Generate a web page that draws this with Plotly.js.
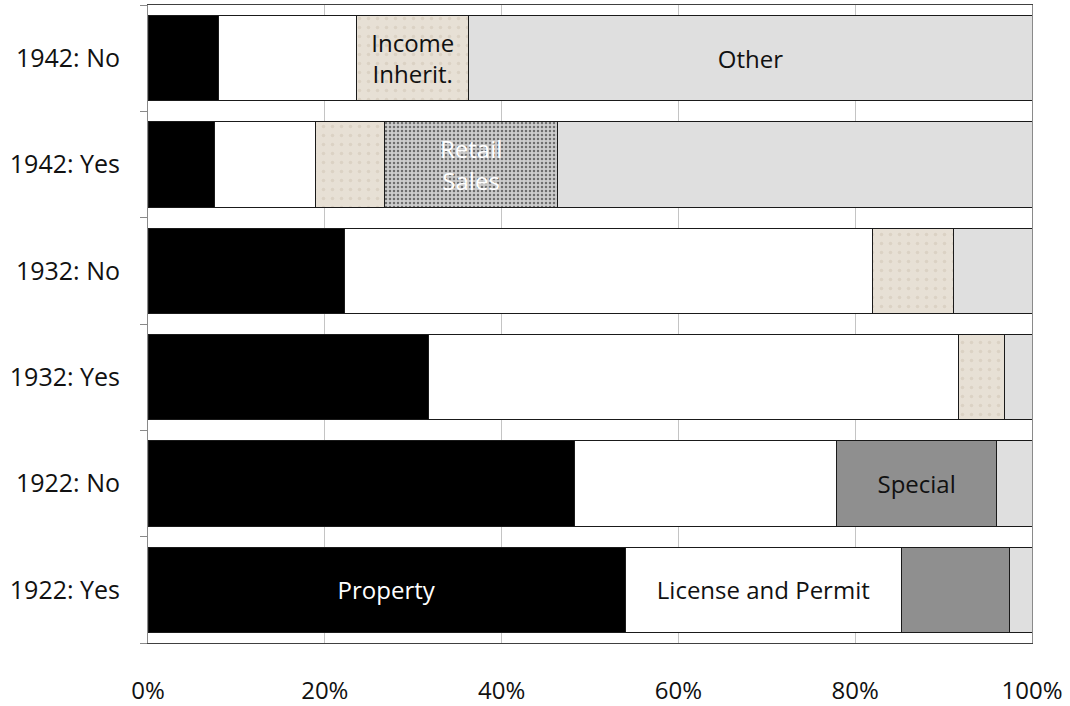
<!DOCTYPE html>
<html>
<head>
<meta charset="utf-8">
<script src="https://cdn.plot.ly/plotly-3.0.1.min.js"></script>
<style>html,body{margin:0;padding:0;background:#fff;}#chart{width:1070px;height:706px;}</style>
</head>
<body>
<div id="chart"></div>
<script>
// Categories (bottom to top)
const categories = ['1922: Yes', '1922: No', '1932: Yes', '1932: No', '1942: Yes', '1942: No'];

// Shares of revenue (percent)
const property = [54.0, 48.2, 31.7, 22.2, 7.5, 8.0];
const licensePermit = [31.2, 29.7, 60.0, 59.7, 11.5, 15.6];
const special = [12.2, 18.1, null, null, null, null];
const incomeInherit = [null, null, 5.2, 9.2, 7.8, 12.7];
const retailSales = [null, null, null, null, 19.5, null];
const other = [2.6, 4.0, 3.1, 8.9, 53.7, 63.7];

// Axis ticks
const xTickValues = [0, 20, 40, 60, 80, 100];
const xTickLabels = ['0%', '20%', '40%', '60%', '80%', '100%'];

// In-bar labels
const propertyLabels = ['Property', '', '', '', '', ''];
const licenseLabels = ['License and Permit', '', '', '', '', ''];
const specialLabels = ['', 'Special', '', '', '', ''];
const incomeLabels = ['', '', '', '', '', 'Income<br>Inherit.'];
const retailLabels = ['', '', '', '', 'Retail<br>Sales', ''];
const otherLabels = ['', '', '', '', '', 'Other'];

const FONT = 'Open Sans, Noto Sans, sans-serif';
const outline = {color: '#1a1a1a', width: 1};

function series(name, values, labels, style, textColor) {
  return {
    type: 'bar', orientation: 'h', name: name,
    y: categories, x: values,
    text: labels, textposition: 'inside', insidetextanchor: 'middle',
    textfont: {family: FONT, size: 24, color: textColor},
    constraintext: 'none',
    marker: Object.assign({line: outline}, style),
    hoverinfo: 'skip', cliponaxis: false
  };
}

const data = [
  series('Property', property, propertyLabels, {color: '#000000'}, '#ffffff'),
  series('License and Permit', licensePermit, licenseLabels, {color: '#ffffff'}, '#111111'),
  series('Special', special, specialLabels, {color: '#8f8f8f'}, '#111111'),
  series('Income Inherit.', incomeInherit, incomeLabels,
    {color: '#e7e0d5', pattern: {shape: '.', bgcolor: '#e7e0d5', fgcolor: '#dbd2c4', size: 9, solidity: 0.12, fillmode: 'replace'}}, '#111111'),
  series('Retail Sales', retailSales, retailLabels,
    {color: '#b5b5b5', pattern: {shape: '.', bgcolor: '#cdcdcd', fgcolor: '#6e6e6e', size: 4, solidity: 0.3, fillmode: 'replace'}}, '#ffffff'),
  series('Other', other, otherLabels, {color: '#dfdfdf'}, '#111111')
];

const layout = {
  width: 1070, height: 706,
  margin: {l: 148, r: 38, t: 5, b: 63},
  paper_bgcolor: '#ffffff', plot_bgcolor: '#ffffff',
  barmode: 'stack', bargap: 0.2,
  showlegend: false,
  font: {family: FONT, size: 25, color: '#111111'},
  xaxis: {
    range: [0, 100], tickmode: 'array', tickvals: xTickValues, ticktext: xTickLabels,
    showgrid: true, gridcolor: '#c4c4c4', gridwidth: 1,
    showline: true, linecolor: '#404040', linewidth: 1, mirror: true,
    ticks: '', ticklabelstandoff: 26, zeroline: false,
    tickfont: {family: FONT, size: 24, color: '#111111'}
  },
  yaxis: {
    type: 'category', categoryorder: 'array', categoryarray: categories,
    showgrid: false, showline: true, linecolor: '#8a8a8a', linewidth: 1, mirror: true,
    ticks: 'outside', tickson: 'boundaries', ticklen: 7, tickcolor: '#8a8a8a',
    ticklabelstandoff: 22,
    tickfont: {family: FONT, size: 25, color: '#111111'}
  }
};

Plotly.newPlot('chart', data, layout, {staticPlot: true, displayModeBar: false});
</script>
</body>
</html>
